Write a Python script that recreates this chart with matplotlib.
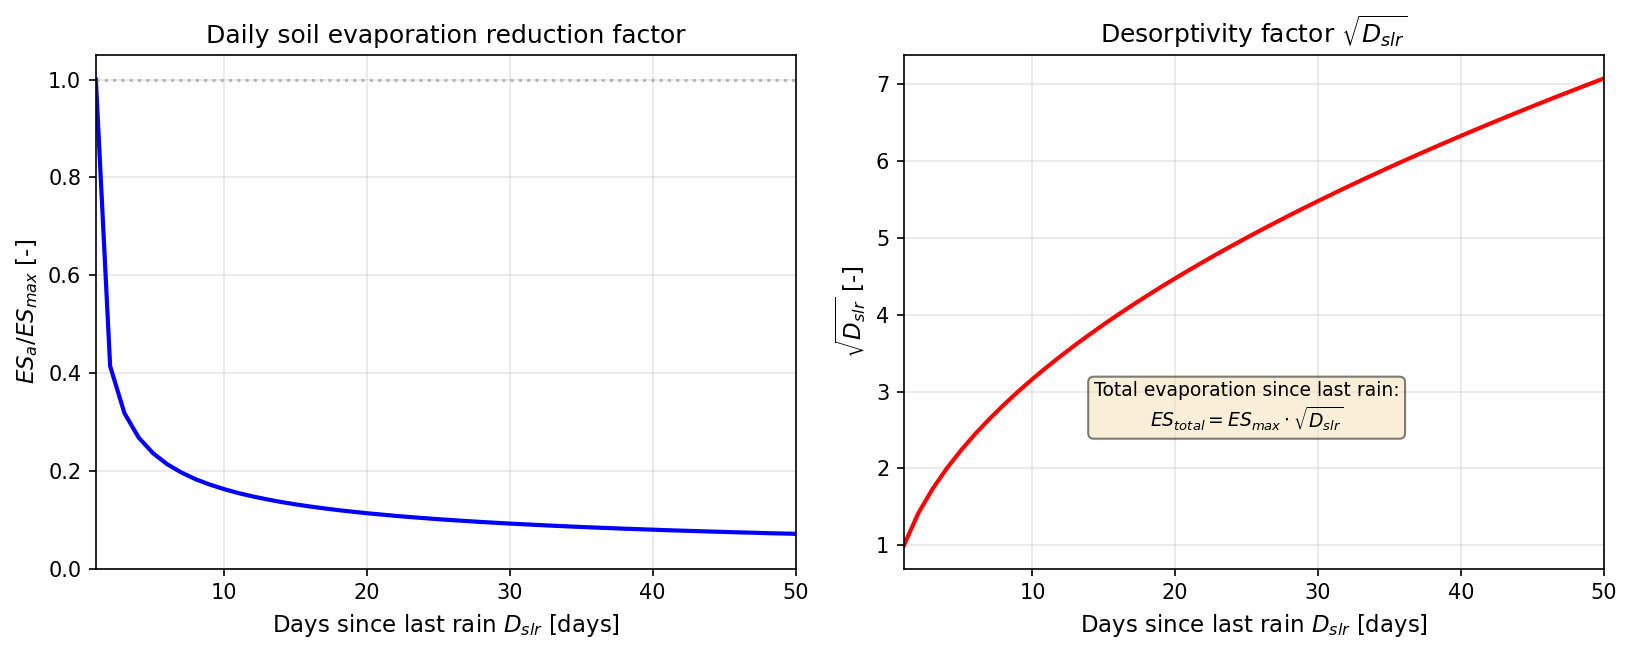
import matplotlib
matplotlib.use("Agg")
import matplotlib.pyplot as plt

days = list(range(1, 51))

# ES_a / ES_max
reduction = [
    1.0000, 0.4142, 0.3179, 0.2679, 0.2361, 0.2134, 0.1963, 0.1826, 0.1716, 0.1623,
    0.1543, 0.1475, 0.1415, 0.1361, 0.1313, 0.1270, 0.1231, 0.1195, 0.1163, 0.1132,
    0.1105, 0.1078, 0.1054, 0.1032, 0.1010, 0.0990, 0.0972, 0.0953, 0.0937, 0.0920,
    0.0906, 0.0891, 0.0877, 0.0864, 0.0851, 0.0839, 0.0828, 0.0816, 0.0806, 0.0796,
    0.0785, 0.0776, 0.0767, 0.0758, 0.0750, 0.0741, 0.0734, 0.0725, 0.0718, 0.0711,
]

# sqrt(D_slr)
desorptivity = [
    1.0000, 1.4142, 1.7321, 2.0000, 2.2361, 2.4495, 2.6458, 2.8284, 3.0000, 3.1623,
    3.3166, 3.4641, 3.6056, 3.7417, 3.8730, 4.0000, 4.1231, 4.2426, 4.3589, 4.4721,
    4.5826, 4.6904, 4.7958, 4.8990, 5.0000, 5.0990, 5.1962, 5.2915, 5.3852, 5.4772,
    5.5678, 5.6569, 5.7446, 5.8310, 5.9161, 6.0000, 6.0828, 6.1644, 6.2450, 6.3246,
    6.4031, 6.4807, 6.5574, 6.6332, 6.7082, 6.7823, 6.8557, 6.9282, 7.0000, 7.0711,
]

fig, (ax1, ax2) = plt.subplots(1, 2, figsize=(1633 / 150, 654 / 150), dpi=150)
fig.subplots_adjust(left=0.0587, right=0.982, bottom=0.1306, top=0.9156, wspace=0.155)

ax1.plot(days, reduction, color="blue", linewidth=2)
ax1.axhline(1.0, color="gray", linestyle=":", alpha=0.5)
ax1.set_xlim(1, 50)
ax1.set_ylim(0, 1.05)
ax1.set_xlabel("Days since last rain $D_{slr}$ [days]", fontsize=11)
ax1.set_ylabel("$ES_a/ES_{max}$ [-]", fontsize=11)
ax1.set_title("Daily soil evaporation reduction factor", fontsize=12)
ax1.grid(True, alpha=0.3)

ax2.plot(days, desorptivity, color="red", linewidth=2)
ax2.set_xlim(1, 50)
ax2.set_xlabel("Days since last rain $D_{slr}$ [days]", fontsize=11)
ax2.set_ylabel(r"$\sqrt{D_{slr}}$ [-]", fontsize=11)
ax2.set_title(r"Desorptivity factor $\sqrt{D_{slr}}$", fontsize=12)
ax2.grid(True, alpha=0.3)
ax2.text(25, 2.8,
         "Total evaporation since last rain:\n"
         r"$ES_{total} = ES_{max} \cdot \sqrt{D_{slr}}$",
         ha="center", va="center", fontsize=9,
         bbox=dict(boxstyle="round", facecolor="wheat", alpha=0.5))

plt.savefig("out.png", dpi=150)
